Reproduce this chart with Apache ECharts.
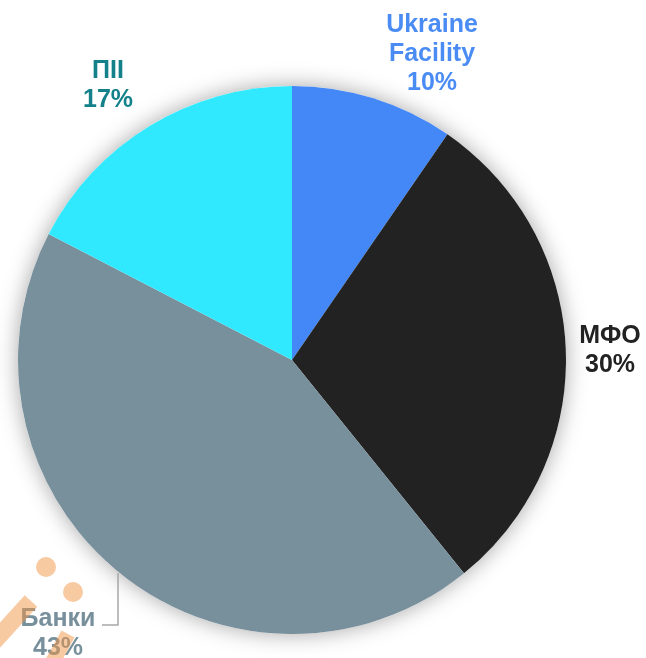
<!DOCTYPE html>
<html>
<head>
<meta charset="utf-8">
<script src="https://cdn.jsdelivr.net/npm/echarts@6/dist/echarts.min.js"></script>
<style>html,body{margin:0;padding:0;background:#fff}#c{width:646px;height:658px}</style>
</head>
<body>
<div id="c"></div>
<script>
const categories = ['Ukraine Facility', 'МФО', 'Банки', 'ПІІ'];
const values = [9.6, 29.6, 43.4, 17.4];
const sliceColors = ['#4388f6', '#222222', '#78909c', '#31e9ff'];
const labelColors = ['#4a8cf4', '#222222', '#78909c', '#13808a'];
const labelPos = [[432, 54], [610, 351], [58, 634], [108, 86]];

const chart = echarts.init(document.getElementById('c'));
const center = [292, 360];
const radius = 274;

chart.setOption({
  animation: false,
  series: [
    {
      type: 'pie', silent: true, z: 1,
      center: center, radius: radius,
      label: {show: false}, labelLine: {show: false},
      itemStyle: {color: '#fff', shadowBlur: 22, shadowColor: 'rgba(0,0,0,0.35)'},
      data: [{value: 1, name: 'bg'}]
    },
    {
      type: 'pie', z: 2,
      center: center, radius: radius,
      startAngle: 90, clockwise: true,
      percentPrecision: 0,
      avoidLabelOverlap: false,
      itemStyle: {borderWidth: 0},
      label: {
        show: true, position: 'outside',
        formatter: '{b}\n{d}%',
        fontFamily: 'Liberation Sans, Arial, sans-serif',
        fontWeight: 'bold', fontSize: 25, lineHeight: 29,
        align: 'center', overflow: 'none'
      },
      labelLine: {show: false, lineStyle: {color: '#a8a8a8', width: 1.5}},
      labelLayout: function (p) {
        const pos = labelPos[p.dataIndex];
        const r = {x: pos[0], y: pos[1], align: 'center', verticalAlign: 'middle', width: 200, overflow: 'none'};
        if (p.dataIndex === 2) {
          r.labelLinePoints = [[118, 573], [118, 625], [102, 625]];
        }
        return r;
      },
      data: categories.map((c, i) => ({
        name: c === 'Ukraine Facility' ? 'Ukraine\nFacility' : c,
        value: values[i],
        itemStyle: {color: sliceColors[i]},
        label: {color: labelColors[i]},
        labelLine: {show: i === 2}
      }))
    }
  ],
  graphic: [
    {type: 'circle', z: 100, shape: {cx: 46, cy: 567, r: 10}, style: {fill: 'rgba(242,150,70,0.5)'}},
    {type: 'circle', z: 100, shape: {cx: 73, cy: 592, r: 10}, style: {fill: 'rgba(242,150,70,0.5)'}},
    {type: 'line', z: 100, shape: {x1: -8, y1: 644, x2: 31, y2: 601}, style: {stroke: 'rgba(242,150,70,0.5)', lineWidth: 17}},
    {type: 'line', z: 100, shape: {x1: 46, y1: 674, x2: 68, y2: 634}, style: {stroke: 'rgba(242,150,70,0.5)', lineWidth: 15}}
  ]
});
</script>
</body>
</html>
